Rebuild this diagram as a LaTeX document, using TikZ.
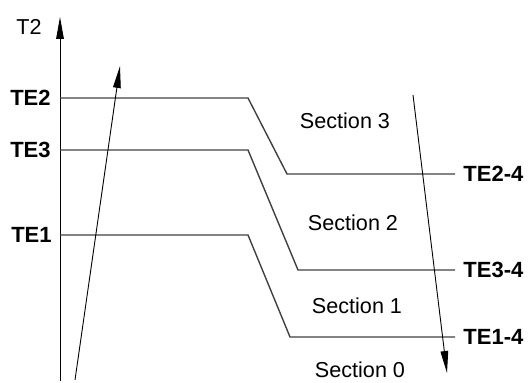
\documentclass[tikz,border=0pt]{standalone}
\usepackage{fontspec}
\setmainfont{Liberation Sans}
\usetikzlibrary{arrows.meta,positioning}

\begin{document}
\begin{tikzpicture}[x=0.5pt,y=-0.5pt,>={Triangle[length=11pt,width=3.8pt]},
    font=\fontsize{10.8}{12}\selectfont,
    level/.style={draw=black!75,line width=0.7pt,shorten >=3pt},
    flow/.style={->,line width=0.45pt},
    tlabel/.style={font=\fontsize{11}{12}\selectfont\bfseries,inner sep=1pt}]
  \useasboundingbox (0,0) rectangle (529,383);
  % axis
  \coordinate (o) at (60,381);
  \coordinate (top) at (60,17);
  \draw[flow] (o) -- (top);
  \node[anchor=east,inner sep=1pt] (t2) at (44,27) {T2};
  % temperature levels
  \node[tlabel,anchor=east] (te2) at (53,98) {TE2};
  \node[tlabel,anchor=east] (te3) at (53,150) {TE3};
  \node[tlabel,anchor=east] (te1) at (54,235) {TE1};
  \node[tlabel,anchor=west] (te24) at (461,174) {TE2-4};
  \node[tlabel,anchor=west] (te34) at (461,270) {TE3-4};
  \node[tlabel,anchor=west] (te14) at (461,337) {TE1-4};
  \draw[level] (60,98) -- (248,98) -- (287,174) -- (te24.west);
  \draw[level] (60,150) -- (248,150) -- (298,270) -- (te34.west);
  \draw[level] (60,235) -- (248,235) -- (290,337) -- (te14.west);
  % sections
  \node (s3) at (345,121) {Section 3};
  \node (s2) at (353,223) {Section 2};
  \node (s1) at (357,306) {Section 1};
  \node (s0) at (360,370) {Section 0};
  % flow arrows
  \coordinate (a1) at (75,380);
  \coordinate (a2) at (120,66);
  \coordinate (b1) at (413,95);
  \coordinate (b2) at (447,373);
  \draw[flow] (a1) -- (a2);
  \draw[flow] (b1) -- (b2);
\end{tikzpicture}
\end{document}
